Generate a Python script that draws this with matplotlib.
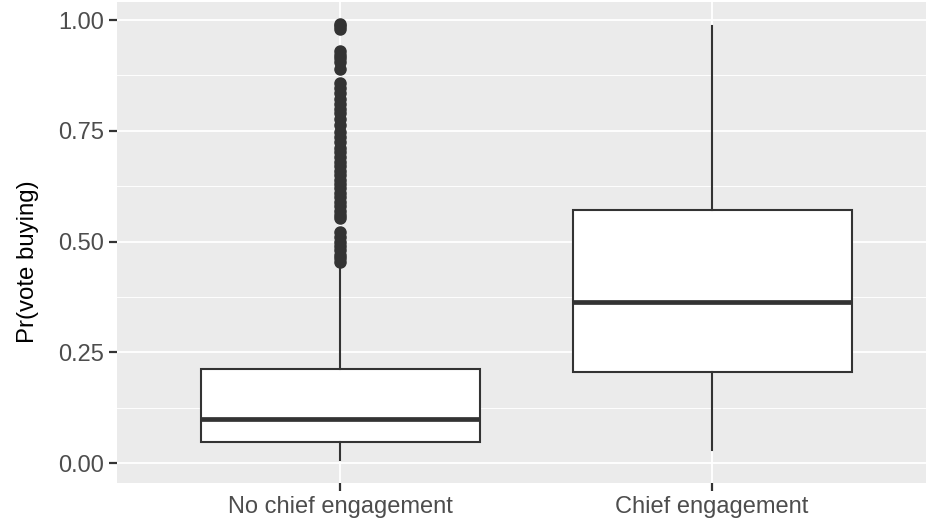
import matplotlib
matplotlib.use("Agg")
import matplotlib.pyplot as plt

plt.rcParams["font.family"] = ["Liberation Sans", "DejaVu Sans"]

# box summaries per group (whisker low, q1, median, q3, whisker high)
groups    = ["No chief engagement", "Chief engagement"]
whislo    = [0.007, 0.029]
q1        = [0.047, 0.206]
medians   = [0.099, 0.363]
q3        = [0.212, 0.571]
whishi    = [0.440, 0.986]

# outlying points above the upper whisker, first group only
outliers_no_chief = [
    0.992, 0.986, 0.980,
    0.930, 0.922, 0.915, 0.906, 0.889,
    0.858, 0.846, 0.835, 0.822, 0.811, 0.800, 0.790, 0.776, 0.762,
    0.748, 0.736, 0.725, 0.712, 0.701, 0.690, 0.680, 0.670, 0.660,
    0.650, 0.640, 0.630, 0.620, 0.610, 0.600, 0.590, 0.580, 0.570,
    0.561, 0.553,
    0.521, 0.510, 0.500, 0.490, 0.480, 0.470, 0.462, 0.454,
]
outliers_chief = []

y_ticks  = [0.0, 0.25, 0.5, 0.75, 1.0]
y_labels = ["0.00", "0.25", "0.50", "0.75", "1.00"]
y_minor  = [0.125, 0.375, 0.625, 0.875]

stats = []
for i, name in enumerate(groups):
    stats.append(dict(
        label=name, whislo=whislo[i], q1=q1[i], med=medians[i],
        q3=q3[i], whishi=whishi[i],
        fliers=[outliers_no_chief, outliers_chief][i],
    ))

dark = "#333333"
fig = plt.figure(figsize=(9.26, 5.21), dpi=100)
ax = fig.add_axes([0.1263, 0.0729, 0.8838, 0.9232])
ax.set_facecolor("#EBEBEB")

ax.bxp(
    stats, positions=[1, 2], widths=0.75, patch_artist=True,
    showcaps=False, zorder=3,
    boxprops=dict(facecolor="white", edgecolor=dark, linewidth=1.5),
    whiskerprops=dict(color=dark, linewidth=1.5),
    medianprops=dict(color=dark, linewidth=3.4, solid_capstyle="butt"),
    flierprops=dict(marker="o", markersize=8, markerfacecolor=dark,
                    markeredgecolor=dark, linestyle="none"),
)

ax.set_xlim(0.4, 2.6)
ax.set_ylim(-0.045, 1.0406)
ax.set_xticks([1, 2])
ax.set_xticklabels(groups)
ax.set_yticks(y_ticks)
ax.set_yticklabels(y_labels)
ax.set_yticks(y_minor, minor=True)

ax.grid(which="major", color="white", linewidth=1.3, zorder=0)
ax.grid(which="minor", axis="y", color="white", linewidth=0.65, zorder=0)
ax.set_axisbelow(True)
for s in ax.spines.values():
    s.set_visible(False)

ax.tick_params(axis="both", which="major", colors=dark, length=6, width=1.6,
               labelsize=17, labelcolor="#4D4D4D", pad=3)
ax.tick_params(axis="y", which="minor", length=0)
ax.set_ylabel("Pr(vote buying)", fontsize=17.3, color="black")
ax.yaxis.set_label_coords(-0.095, 0.46)

fig.savefig("out.png", dpi=100)
